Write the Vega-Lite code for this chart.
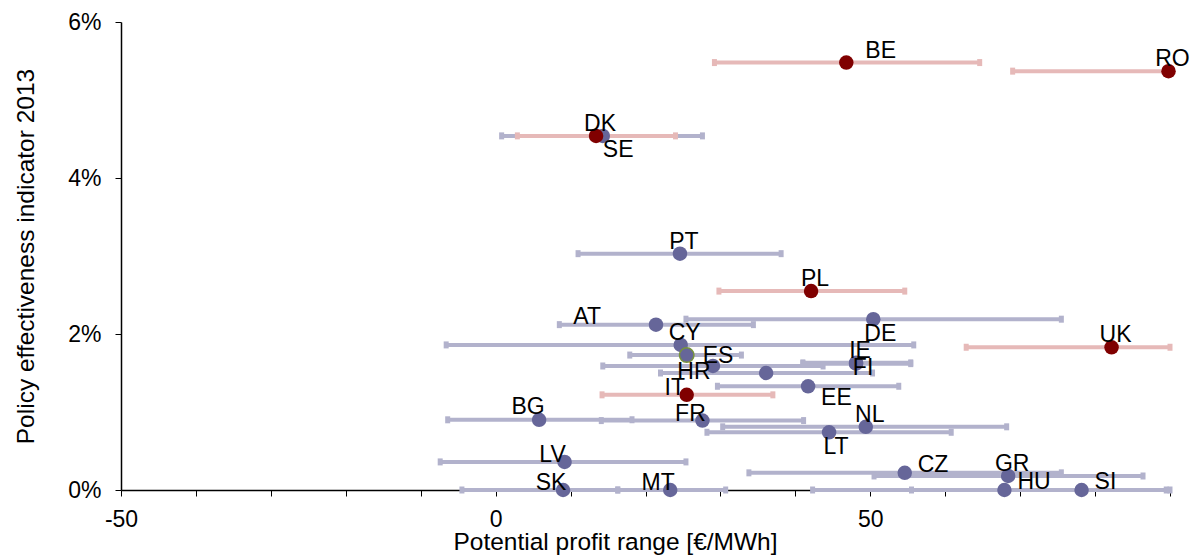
{
  "$schema": "https://vega.github.io/schema/vega-lite/v6.json",
  "width": 1049,
  "height": 468,
  "autosize": {"type": "none"},
  "padding": {"left": 121, "top": 22, "right": 29, "bottom": 65},
  "background": "white",
  "config": {
    "view": {"stroke": null},
    "font": "Liberation Sans",
    "axis": {"grid": false, "domainColor": "black", "tickColor": "black", "labelColor": "black", "titleColor": "black", "labelFont": "Liberation Sans", "titleFont": "Liberation Sans", "titleFontWeight": "normal", "labelFlush": false},
    "text": {"fontSize": 23, "color": "black", "baseline": "middle"}
  },
  "data": {
    "values": [
      {"country": "SE", "group": "B", "x": 14.3, "pei": 4.54, "lo": 0.8, "hi": 27.6},
      {"country": "PT", "group": "B", "x": 24.6, "pei": 3.03, "lo": 11.0, "hi": 38.1},
      {"country": "DE", "group": "B", "x": 50.4, "pei": 2.19, "lo": 25.4, "hi": 75.5},
      {"country": "AT", "group": "B", "x": 21.4, "pei": 2.12, "lo": 8.5, "hi": 34.4},
      {"country": "CY", "group": "B", "x": 24.7, "pei": 1.86, "lo": -6.6, "hi": 55.8},
      {"country": "HR", "group": "B", "x": 29.0, "pei": 1.59, "lo": 14.3, "hi": 43.7},
      {"country": "IE", "group": "B", "x": 48.1, "pei": 1.63, "lo": 41.0, "hi": 55.4},
      {"country": "FI", "group": "B", "x": 48.1, "pei": 1.62, "lo": 41.0, "hi": 55.4},
      {"country": "LU", "group": "B", "x": 36.1, "pei": 1.50, "lo": 22.0, "hi": 50.3},
      {"country": "EE", "group": "B", "x": 41.7, "pei": 1.33, "lo": 29.6, "hi": 53.8},
      {"country": "BG", "group": "B", "x": 5.8, "pei": 0.90, "lo": -6.4, "hi": 18.2},
      {"country": "FR", "group": "B", "x": 27.6, "pei": 0.89, "lo": 14.1, "hi": 41.1},
      {"country": "NL", "group": "B", "x": 49.4, "pei": 0.81, "lo": 30.3, "hi": 68.2},
      {"country": "LT", "group": "B", "x": 44.5, "pei": 0.74, "lo": 28.2, "hi": 60.8},
      {"country": "LV", "group": "B", "x": 9.2, "pei": 0.36, "lo": -7.4, "hi": 25.4},
      {"country": "CZ", "group": "B", "x": 54.6, "pei": 0.22, "lo": 33.8, "hi": 75.5},
      {"country": "GR", "group": "B", "x": 68.4, "pei": 0.18, "lo": 50.5, "hi": 86.4},
      {"country": "SK", "group": "B", "x": 9.0, "pei": 0.0, "lo": -4.5, "hi": 16.3},
      {"country": "MT", "group": "B", "x": 23.3, "pei": 0.0, "lo": 16.3, "hi": 30.7},
      {"country": "HU", "group": "B", "x": 67.9, "pei": 0.0, "lo": 42.3, "hi": 89.5},
      {"country": "SI", "group": "B", "x": 78.2, "pei": 0.0, "lo": 55.5, "hi": 90.0},
      {"country": "ES", "group": "B", "x": 25.5, "pei": 1.73, "lo": 17.9, "hi": 32.8},
      {"country": "BE", "group": "A", "x": 46.8, "pei": 5.48, "lo": 29.2, "hi": 64.6},
      {"country": "RO", "group": "A", "x": 89.8, "pei": 5.37, "lo": 69.0, "hi": 90.0},
      {"country": "DK", "group": "A", "x": 13.4, "pei": 4.54, "lo": 2.9, "hi": 24.0},
      {"country": "PL", "group": "A", "x": 42.1, "pei": 2.55, "lo": 29.8, "hi": 54.6},
      {"country": "UK", "group": "A", "x": 82.2, "pei": 1.83, "lo": 62.8, "hi": 90.0},
      {"country": "IT", "group": "A", "x": 25.5, "pei": 1.22, "lo": 14.2, "hi": 37.0}
    ]
  },
  "encoding": {
    "y": {
      "field": "pei", "type": "quantitative",
      "scale": {"domain": [0, 6], "nice": false, "zero": false},
      "axis": {
        "values": [0, 2, 4, 6],
        "labelExpr": "datum.value + '%'",
        "labelFontSize": 23,
        "labelPadding": 14,
        "tickSize": 6,
        "domainWidth": 1.5,
        "title": "Policy effectiveness indicator 2013",
        "titleFontSize": 24.5,
        "titleAngle": -90,
        "titleX": -88,
        "titleY": 234,
        "titleAlign": "center",
        "titleBaseline": "alphabetic"
      }
    }
  },
  "layer": [
    {
      "transform": [{"filter": "datum.group === 'B'"}],
      "mark": {"type": "rule", "color": "#b2b2cc", "strokeWidth": 4},
      "encoding": {
        "x": {
          "field": "lo", "type": "quantitative",
          "scale": {"domain": [-50, 90], "nice": false, "zero": false},
          "axis": {
            "values": [-50, -40, -30, -20, -10, 0, 10, 20, 30, 40, 50, 60, 70, 80, 90],
            "labelExpr": "datum.value % 50 === 0 ? toString(datum.value) : ''",
            "labelFontSize": 23,
            "labelPadding": 12,
            "tickSize": 6,
            "domainWidth": 1.5,
            "title": "Potential profit range [€/MWh]",
            "titleFontSize": 24.5,
            "titleX": 494,
            "titleY": 59,
            "titleAlign": "center",
            "titleBaseline": "alphabetic"
          }
        },
        "x2": {"field": "hi"}
      }
    },
    {
      "transform": [{"filter": "datum.group === 'B'"}],
      "mark": {"type": "tick", "orient": "vertical", "color": "#b2b2cc", "size": 7, "thickness": 5, "opacity": 1},
      "encoding": {"x": {"field": "lo", "type": "quantitative"}}
    },
    {
      "transform": [{"filter": "datum.group === 'B'"}],
      "mark": {"type": "tick", "orient": "vertical", "color": "#b2b2cc", "size": 7, "thickness": 5, "opacity": 1},
      "encoding": {"x": {"field": "hi", "type": "quantitative"}}
    },
    {
      "transform": [{"filter": "datum.group === 'A'"}],
      "mark": {"type": "rule", "color": "#e6b9b8", "strokeWidth": 4},
      "encoding": {"x": {"field": "lo", "type": "quantitative"}, "x2": {"field": "hi"}}
    },
    {
      "transform": [{"filter": "datum.group === 'A'"}],
      "mark": {"type": "tick", "orient": "vertical", "color": "#e6b9b8", "size": 7, "thickness": 5, "opacity": 1},
      "encoding": {"x": {"field": "lo", "type": "quantitative"}}
    },
    {
      "transform": [{"filter": "datum.group === 'A'"}],
      "mark": {"type": "tick", "orient": "vertical", "color": "#e6b9b8", "size": 7, "thickness": 5, "opacity": 1},
      "encoding": {"x": {"field": "hi", "type": "quantitative"}}
    },
    {
      "transform": [{"filter": "datum.group === 'B' && datum.country !== 'ES'"}],
      "mark": {"type": "circle", "color": "#666699", "size": 210, "opacity": 1},
      "encoding": {"x": {"field": "x", "type": "quantitative"}}
    },
    {
      "transform": [{"filter": "datum.country === 'ES'"}],
      "mark": {"type": "circle", "fill": "#666699", "stroke": "#77933c", "strokeWidth": 1.5, "size": 210, "opacity": 1},
      "encoding": {"x": {"field": "x", "type": "quantitative"}}
    },
    {
      "transform": [{"filter": "datum.group === 'A'"}],
      "mark": {"type": "circle", "color": "#800000", "size": 210, "opacity": 1},
      "encoding": {"x": {"field": "x", "type": "quantitative"}}
    },
    {
      "transform": [{"filter": {"field": "country", "oneOf": ["RO", "DK", "PT", "PL", "CY", "UK", "IE", "NL", "GR"]}}],
      "mark": {"type": "text", "align": "center", "dx": 4, "dy": -12},
      "encoding": {"x": {"field": "x", "type": "quantitative"}, "text": {"field": "country"}}
    },
    {
      "transform": [{"filter": {"field": "country", "oneOf": ["FR", "IT", "LV", "SK", "MT"]}}],
      "mark": {"type": "text", "align": "center", "dx": -12, "dy": -7},
      "encoding": {"x": {"field": "x", "type": "quantitative"}, "text": {"field": "country"}}
    },
    {
      "transform": [{"filter": {"field": "country", "oneOf": ["BG"]}}],
      "mark": {"type": "text", "align": "center", "dx": -11, "dy": -13},
      "encoding": {"x": {"field": "x", "type": "quantitative"}, "text": {"field": "country"}}
    },
    {
      "transform": [{"filter": {"field": "country", "oneOf": ["CZ", "HU", "SI"]}}],
      "mark": {"type": "text", "align": "left", "dx": 13, "dy": -8},
      "encoding": {"x": {"field": "x", "type": "quantitative"}, "text": {"field": "country"}}
    },
    {
      "transform": [{"filter": {"field": "country", "oneOf": ["BE"]}}],
      "mark": {"type": "text", "align": "left", "dx": 19, "dy": -12},
      "encoding": {"x": {"field": "x", "type": "quantitative"}, "text": {"field": "country"}}
    },
    {
      "transform": [{"filter": {"field": "country", "oneOf": ["ES"]}}],
      "mark": {"type": "text", "align": "left", "dx": 16, "dy": 1},
      "encoding": {"x": {"field": "x", "type": "quantitative"}, "text": {"field": "country"}}
    },
    {
      "transform": [{"filter": {"field": "country", "oneOf": ["DE", "LT"]}}],
      "mark": {"type": "text", "align": "center", "dx": 7, "dy": 15},
      "encoding": {"x": {"field": "x", "type": "quantitative"}, "text": {"field": "country"}}
    },
    {
      "transform": [{"filter": {"field": "country", "oneOf": ["SE"]}}],
      "mark": {"type": "text", "align": "left", "dx": 0, "dy": 14},
      "encoding": {"x": {"field": "x", "type": "quantitative"}, "text": {"field": "country"}}
    },
    {
      "transform": [{"filter": {"field": "country", "oneOf": ["EE"]}}],
      "mark": {"type": "text", "align": "left", "dx": 13, "dy": 12},
      "encoding": {"x": {"field": "x", "type": "quantitative"}, "text": {"field": "country"}}
    },
    {
      "transform": [{"filter": {"field": "country", "oneOf": ["FI"]}}],
      "mark": {"type": "text", "align": "center", "dx": 7, "dy": 4},
      "encoding": {"x": {"field": "x", "type": "quantitative"}, "text": {"field": "country"}}
    },
    {
      "transform": [{"filter": {"field": "country", "oneOf": ["HR"]}}],
      "mark": {"type": "text", "align": "center", "dx": -19, "dy": 6},
      "encoding": {"x": {"field": "x", "type": "quantitative"}, "text": {"field": "country"}}
    },
    {
      "transform": [{"filter": {"field": "country", "oneOf": ["AT"]}}],
      "mark": {"type": "text", "align": "right", "dx": -55, "dy": -8},
      "encoding": {"x": {"field": "x", "type": "quantitative"}, "text": {"field": "country"}}
    }
  ]
}
